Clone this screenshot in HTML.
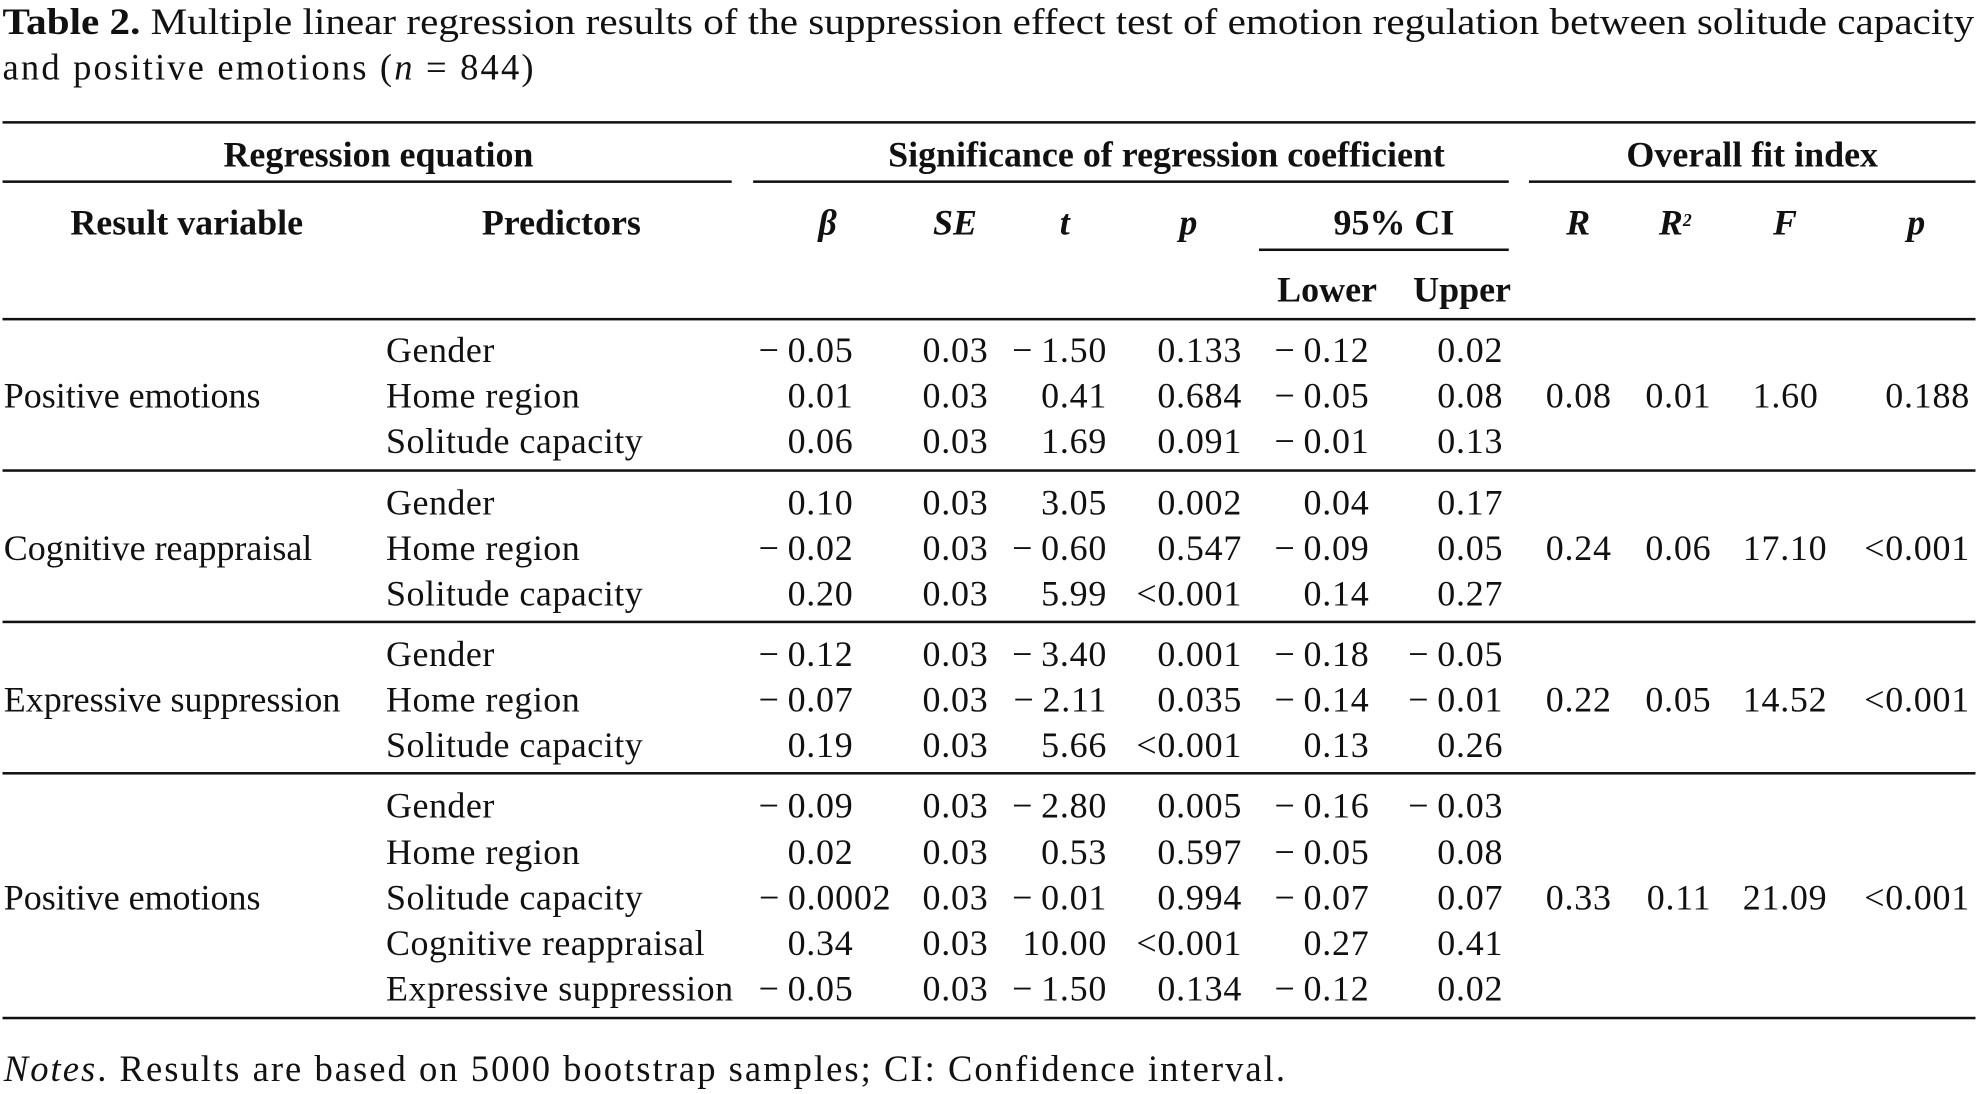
<!DOCTYPE html>
<html><head><meta charset="utf-8"><style>
html,body{margin:0;padding:0;background:#fff;}
body{width:1978px;height:1094px;overflow:hidden;}
#w{position:absolute;left:0;top:0;width:1568px;height:867px;transform:scale(1.2615);transform-origin:0 0;font-family:"Liberation Serif",serif;color:#111;font-size:28.5px;}
.t{position:absolute;white-space:nowrap;line-height:30px;height:30px;}
.r{text-align:right;width:300px;letter-spacing:0.6px;}
.c{text-align:center;width:400px;}
.b{font-weight:bold;}
.i{font-style:italic;}
.h{position:absolute;height:2px;background:#111;}
</style></head><body><div id="w">
<div id="ti" class="t" style="left:2px;top:3px;font-size:29px;transform-origin:0 0"><b>Table 2.</b> Multiple linear regression results of the suppression effect test of emotion regulation between solitude capacity</div>
<div class="t" style="left:2px;top:39px;font-size:29px;letter-spacing:1.7px">and positive emotions (<i>n</i> = 844)</div>
<div class="h" style="left:2px;width:1564px;top:96px"></div>
<div class="h" style="left:2px;width:578px;top:143px"></div>
<div class="h" style="left:597px;width:599px;top:143px"></div>
<div class="h" style="left:1212px;width:354px;top:143px"></div>
<div class="h" style="left:998px;width:198px;top:197px"></div>
<div class="h" style="left:2px;width:1564px;top:252px"></div>
<div class="h" style="left:2px;width:1564px;top:372px"></div>
<div class="h" style="left:2px;width:1564px;top:492px"></div>
<div class="h" style="left:2px;width:1564px;top:612px"></div>
<div class="h" style="left:2px;width:1564px;top:806px"></div>
<div class="t c b" style="left:100px;top:109px">Regression equation</div>
<div class="t c b" style="left:704px;top:109px">Significance of regression coefficient</div>
<div class="t c b" style="left:1189px;top:109px">Overall fit index</div>
<div class="t c b" style="left:-52px;top:163px">Result variable</div>
<div class="t c b" style="left:245px;top:163px">Predictors</div>
<div class="t c b i" style="left:456px;top:163px">β</div>
<div class="t c b i" style="left:557px;top:163px">SE</div>
<div class="t c b i" style="left:644px;top:163px">t</div>
<div class="t c b i" style="left:742px;top:163px">p</div>
<div class="t c b" style="left:905px;top:163px">95% CI</div>
<div class="t c b i" style="left:1051px;top:163px">R</div>
<div class="t c b i" style="left:1128px;top:163px">R<span style="font-size:14px;vertical-align:top;position:relative;top:-2px">2</span></div>
<div class="t c b i" style="left:1215px;top:163px">F</div>
<div class="t c b i" style="left:1319px;top:163px">p</div>
<div class="t c b" style="left:852px;top:216px">Lower</div>
<div class="t c b" style="left:959px;top:216px">Upper</div>

<div class="t" style="left:3px;top:300px">Positive emotions</div>
<div class="t" style="left:3px;top:421px">Cognitive reappraisal</div>
<div class="t" style="left:3px;top:541px">Expressive suppression</div>
<div class="t" style="left:3px;top:698px">Positive emotions</div>

<div id="rows"></div>
<div class="t" style="left:3px;top:833px;font-size:29px;letter-spacing:1.6px"><i>Notes</i>. Results are based on 5000 bootstrap samples; CI: Confidence interval.</div>
</div>
<script>
var rows=[
[264,"Gender","−0.05","0.03","−1.50","0.133","−0.12","0.02"],
[300,"Home region","0.01","0.03","0.41","0.684","−0.05","0.08"],
[336,"Solitude capacity","0.06","0.03","1.69","0.091","−0.01","0.13"],
[385,"Gender","0.10","0.03","3.05","0.002","0.04","0.17"],
[421,"Home region","−0.02","0.03","−0.60","0.547","−0.09","0.05"],
[457,"Solitude capacity","0.20","0.03","5.99","<0.001","0.14","0.27"],
[505,"Gender","−0.12","0.03","−3.40","0.001","−0.18","−0.05"],
[541,"Home region","−0.07","0.03","−2.11","0.035","−0.14","−0.01"],
[577,"Solitude capacity","0.19","0.03","5.66","<0.001","0.13","0.26"],
[625,"Gender","−0.09","0.03","−2.80","0.005","−0.16","−0.03"],
[662,"Home region","0.02","0.03","0.53","0.597","−0.05","0.08"],
[698,"Solitude capacity","−0.0002","0.03","−0.01","0.994","−0.07","0.07"],
[734,"Cognitive reappraisal","0.34","0.03","10.00","<0.001","0.27","0.41"],
[770,"Expressive suppression","−0.05","0.03","−1.50","0.134","−0.12","0.02"]];
var rights=[676,783,877,984,1085,1191];
var fit=[[300,"0.08","0.01","1.60","0.188"],[421,"0.24","0.06","17.10","<0.001"],[541,"0.22","0.05","14.52","<0.001"],[698,"0.33","0.11","21.09","<0.001"]];
var fr=[1277,1356,1448,1561];
var h="";
function cell(txt,right,top){return '<div class="t r" style="left:'+(right-300+0.6)+'px;top:'+top+'px">'+txt.replace(/</g,"&lt;").replace(/−/g,"−\u2009")+'</div>';}
rows.forEach(function(r){
 h+='<div class="t" style="left:306px;top:'+r[0]+'px;letter-spacing:0.4px">'+r[1]+'</div>';
 for(var i=0;i<6;i++){var rt=rights[i]; if(i==0&&r[2]=="−0.0002")rt=706; h+=cell(r[i+2],rt,r[0]);}
});
fit.forEach(function(f){for(var i=0;i<4;i++){var rt=fr[i]; if(i==2&&f[3]=="1.60")rt=1441; h+=cell(f[i+1],rt,f[0]);}});
document.getElementById("rows").innerHTML=h;
var ti=document.getElementById("ti");var w=ti.getBoundingClientRect().width/1.2615;
ti.style.transform="scaleX("+(1563/w)+")";
</script>
</body></html>
